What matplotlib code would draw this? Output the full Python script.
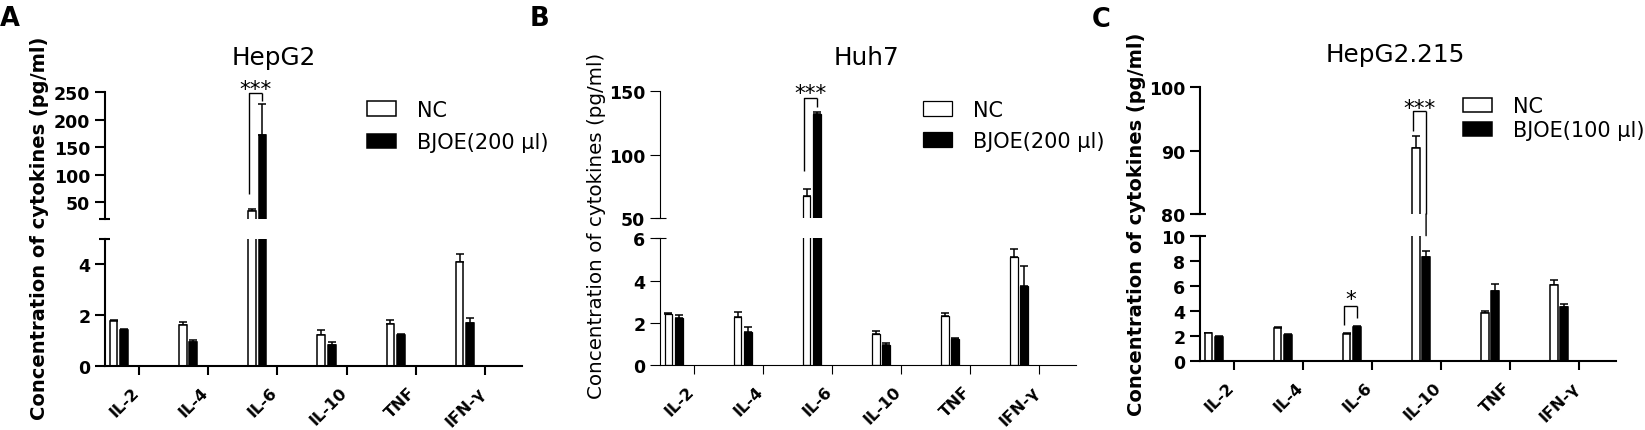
import matplotlib
matplotlib.use('Agg')
import matplotlib.pyplot as plt
import matplotlib.transforms as mtransforms
import numpy as np
from matplotlib.patches import ConnectionPatch

plt.rcParams['font.family'] = ['DejaVu Sans']

# ---------------- data ----------------
categories = ['IL-2', 'IL-4', 'IL-6', 'IL-10', 'TNF', 'IFN-γ']

hepg2_nc = [1.75, 1.62, 34.8, 1.21, 1.64, 4.10]
hepg2_nc_err = [0.05, 0.12, 4.0, 0.20, 0.15, 0.30]
hepg2_bj = [1.40, 0.92, 172.0, 0.82, 1.22, 1.67]
hepg2_bj_err = [0.04, 0.10, 57.0, 0.10, 0.05, 0.20]

huh7_nc = [2.42, 2.27, 67.1, 1.47, 2.32, 5.13]
huh7_nc_err = [0.03, 0.22, 5.8, 0.12, 0.14, 0.35]
huh7_bj = [2.21, 1.55, 131.8, 0.95, 1.25, 3.74]
huh7_bj_err = [0.16, 0.23, 2.2, 0.09, 0.04, 0.93]

hepg2215_nc = [2.23, 2.63, 2.15, 90.4, 3.85, 6.07]
hepg2215_nc_err = [0.05, 0.10, 0.08, 1.9, 0.13, 0.38]
hepg2215_bj = [1.94, 2.12, 2.76, 8.33, 5.62, 4.32]
hepg2215_bj_err = [0.05, 0.03, 0.05, 0.42, 0.53, 0.24]

ylabel = 'Concentration of cytokines (pg/ml)'

# ---------------- layout helpers ----------------
W, H = 1645, 431
fig = plt.figure(figsize=(W / 100, H / 100), dpi=100)


def px_rect(x0, x1, top, bot):
    return [x0 / W, 1 - bot / H, (x1 - x0) / W, (bot - top) / H]


NC_OFF, BJ_OFF, BAR_W = -0.367, -0.216, 0.112
XLIM = (-0.49, 5.53)
TICK_FS = 12.5
XTICK_FS = 11.7
LEG_FS = 15

panels = [
    dict(letter='A', letter_xy=(0, 26), title='HepG2', title_xy=(274, 65),
         nc=hepg2_nc, nc_err=hepg2_nc_err, bj=hepg2_bj, bj_err=hepg2_bj_err,
         label2='BJOE(200 µl)', x0=105, x1=521.7,
         up=(93.3, 220), lo=(240, 366.7),
         up_lim=(20, 250), up_ticks=[50, 100, 150, 200, 250],
         lo_lim=(0, 5), lo_ticks=[0, 2, 4],
         bold_label=True, lw=1.5, bar_lw=1.1,
         ylabel_xy=(40, 228.5), ylabel_size=14,
         leg_xy=(367, 101), leg_spacing=0.59,
         sig=[dict(cat=2, ax='up', yl=65.4, yt=248.3, yr=234.9, txt='***', ty=268)]),
    dict(letter='B', letter_xy=(530, 26), title='Huh7', title_xy=(866.7, 65),
         nc=huh7_nc, nc_err=huh7_nc_err, bj=huh7_bj, bj_err=huh7_bj_err,
         label2='BJOE(200 µl)', x0=660, x1=1075.7,
         up=(92.3, 219), lo=(239.3, 366),
         up_lim=(50, 150), up_ticks=[50, 100, 150],
         lo_lim=(0, 6), lo_ticks=[0, 2, 4, 6],
         bold_label=False, lw=0.8, bar_lw=0.9,
         ylabel_xy=(596.7, 225.8), ylabel_size=14.3,
         leg_xy=(923, 100.7), leg_spacing=0.54,
         sig=[dict(cat=2, ax='up', yl=86.9, yt=144.7, yr=137.8, txt='***', ty=154.4)]),
    dict(letter='C', letter_xy=(1092, 27), title='HepG2.215', title_xy=(1395, 61.7),
         nc=hepg2215_nc, nc_err=hepg2215_nc_err, bj=hepg2215_bj, bj_err=hepg2215_bj_err,
         label2='BJOE(100 µl)', x0=1200, x1=1615.7,
         up=(88.3, 215), lo=(236.7, 362.3),
         up_lim=(80, 100), up_ticks=[80, 90, 100],
         lo_lim=(0, 10), lo_ticks=[0, 2, 4, 6, 8, 10],
         bold_label=True, lw=1.5, bar_lw=1.1,
         ylabel_xy=(1136.7, 224), ylabel_size=14,
         leg_xy=(1463, 97.2), leg_spacing=0.2,
         sig=[dict(cat=3, ax='up', yl=93.15, yt=96.2, yr=None, txt='***', ty=97.8),
              dict(cat=2, ax='lo', yl=2.91, yt=4.42, yr=3.44, txt='*', ty=5.54)]),
]

x = np.arange(len(categories))
CAP = 5.5  # half-width of break caps, px
label_shift = mtransforms.ScaledTranslation(3 / 100, 0, fig.dpi_scale_trans)

for p in panels:
    ax_up = fig.add_axes(px_rect(p['x0'], p['x1'], *p['up']))
    ax_lo = fig.add_axes(px_rect(p['x0'], p['x1'], *p['lo']))
    lw = p['lw']
    handles = None
    for ax in (ax_up, ax_lo):
        b1 = ax.bar(x + NC_OFF, p['nc'], BAR_W, color='white', edgecolor='black',
                    linewidth=p['bar_lw'], zorder=2)
        ax.errorbar(x + NC_OFF, p['nc'], yerr=[np.zeros(len(x)), p['nc_err']], fmt='none',
                    ecolor='black', elinewidth=1.1, capsize=2.6, capthick=1.1, zorder=1)
        b2 = ax.bar(x + BJ_OFF, p['bj'], BAR_W, color='black', edgecolor='black',
                    linewidth=p['bar_lw'], zorder=2)
        ax.errorbar(x + BJ_OFF, p['bj'], yerr=[np.zeros(len(x)), p['bj_err']], fmt='none',
                    ecolor='black', elinewidth=1.1, capsize=2.6, capthick=1.1, zorder=1)
        if handles is None:
            handles = (b1, b2)
        ax.set_xlim(*XLIM)
        for s in ('top', 'right'):
            ax.spines[s].set_visible(False)
        ax.spines['left'].set_linewidth(lw)
        ax.spines['bottom'].set_linewidth(lw)
        ax.tick_params(axis='y', direction='out', length=7.2, width=lw, pad=3.4)

    ax_up.set_ylim(*p['up_lim'])
    ax_up.set_yticks(p['up_ticks'])
    ax_up.set_yticklabels([str(t) for t in p['up_ticks']], fontweight='bold', fontsize=TICK_FS)
    ax_up.spines['bottom'].set_visible(False)
    ax_up.tick_params(axis='x', bottom=False, labelbottom=False)

    ax_lo.set_ylim(*p['lo_lim'])
    ax_lo.set_yticks(p['lo_ticks'])
    ax_lo.set_yticklabels([str(t) for t in p['lo_ticks']], fontweight='bold', fontsize=TICK_FS)
    ax_lo.set_xticks(x)
    ax_lo.set_xticklabels(categories, rotation=45, ha='right', fontweight='bold',
                          fontsize=XTICK_FS)
    ax_lo.tick_params(axis='x', direction='out', length=6.5, width=lw, pad=6.5)
    for lab in ax_lo.get_xticklabels():
        lab.set_transform(lab.get_transform() + label_shift)

    # break caps
    c = CAP / (p['x1'] - p['x0'])
    ax_up.plot([-c, c], [0, 0], transform=ax_up.transAxes, clip_on=False,
               color='black', lw=lw, solid_capstyle='butt')
    ax_lo.plot([-c, c], [1, 1], transform=ax_lo.transAxes, clip_on=False,
               color='black', lw=lw, solid_capstyle='butt')

    # significance brackets
    for s in p['sig']:
        ax = ax_up if s['ax'] == 'up' else ax_lo
        xl = s['cat'] + NC_OFF - 0.04
        xr = s['cat'] + BJ_OFF
        ax.plot([xl, xl, xr], [s['yl'], s['yt'], s['yt']], color='black', lw=1.0,
                clip_on=False, solid_capstyle='butt')
        if s['yr'] is None:
            ax.plot([xr, xr], [s['yt'], p['up_lim'][0]], color='black', lw=1.0,
                    clip_on=False, solid_capstyle='butt')
            con = ConnectionPatch(xyA=(xr, p['up_lim'][0]), coordsA=ax_up.transData,
                                  xyB=(xr, p['lo_lim'][1]), coordsB=ax_lo.transData,
                                  color='black', lw=1.0)
            fig.add_artist(con)
        else:
            ax.plot([xr, xr], [s['yt'], s['yr']], color='black', lw=1.0,
                    clip_on=False, solid_capstyle='butt')
        ax.annotate(s['txt'], xy=((xl + xr) / 2, s['ty']), xytext=(0, -5),
                    textcoords='offset points', ha='center', va='center',
                    fontsize=15.5, annotation_clip=False)

    # legend
    lx, ly = p['leg_xy']
    ax_up.legend(handles, ['NC', p['label2']], loc='upper left',
                 bbox_to_anchor=(lx / W, 1 - ly / H), bbox_transform=fig.transFigure,
                 frameon=False, borderpad=0, borderaxespad=0, fontsize=LEG_FS,
                 handlelength=1.4, handleheight=0.7, handletextpad=1.0,
                 labelspacing=p['leg_spacing'])

    # titles, letters, y labels
    fig.text(p['title_xy'][0] / W, 1 - p['title_xy'][1] / H, p['title'],
             ha='center', va='baseline', fontsize=17.8)
    fig.text(p['letter_xy'][0] / W, 1 - p['letter_xy'][1] / H, p['letter'],
             ha='left', va='baseline', fontsize=18.5, fontweight='bold')
    fig.text(p['ylabel_xy'][0] / W, 1 - p['ylabel_xy'][1] / H, ylabel,
             rotation=90, ha='center', va='center', fontsize=p['ylabel_size'],
             fontweight='bold' if p['bold_label'] else 'normal')

fig.savefig('out.png', dpi=100)
